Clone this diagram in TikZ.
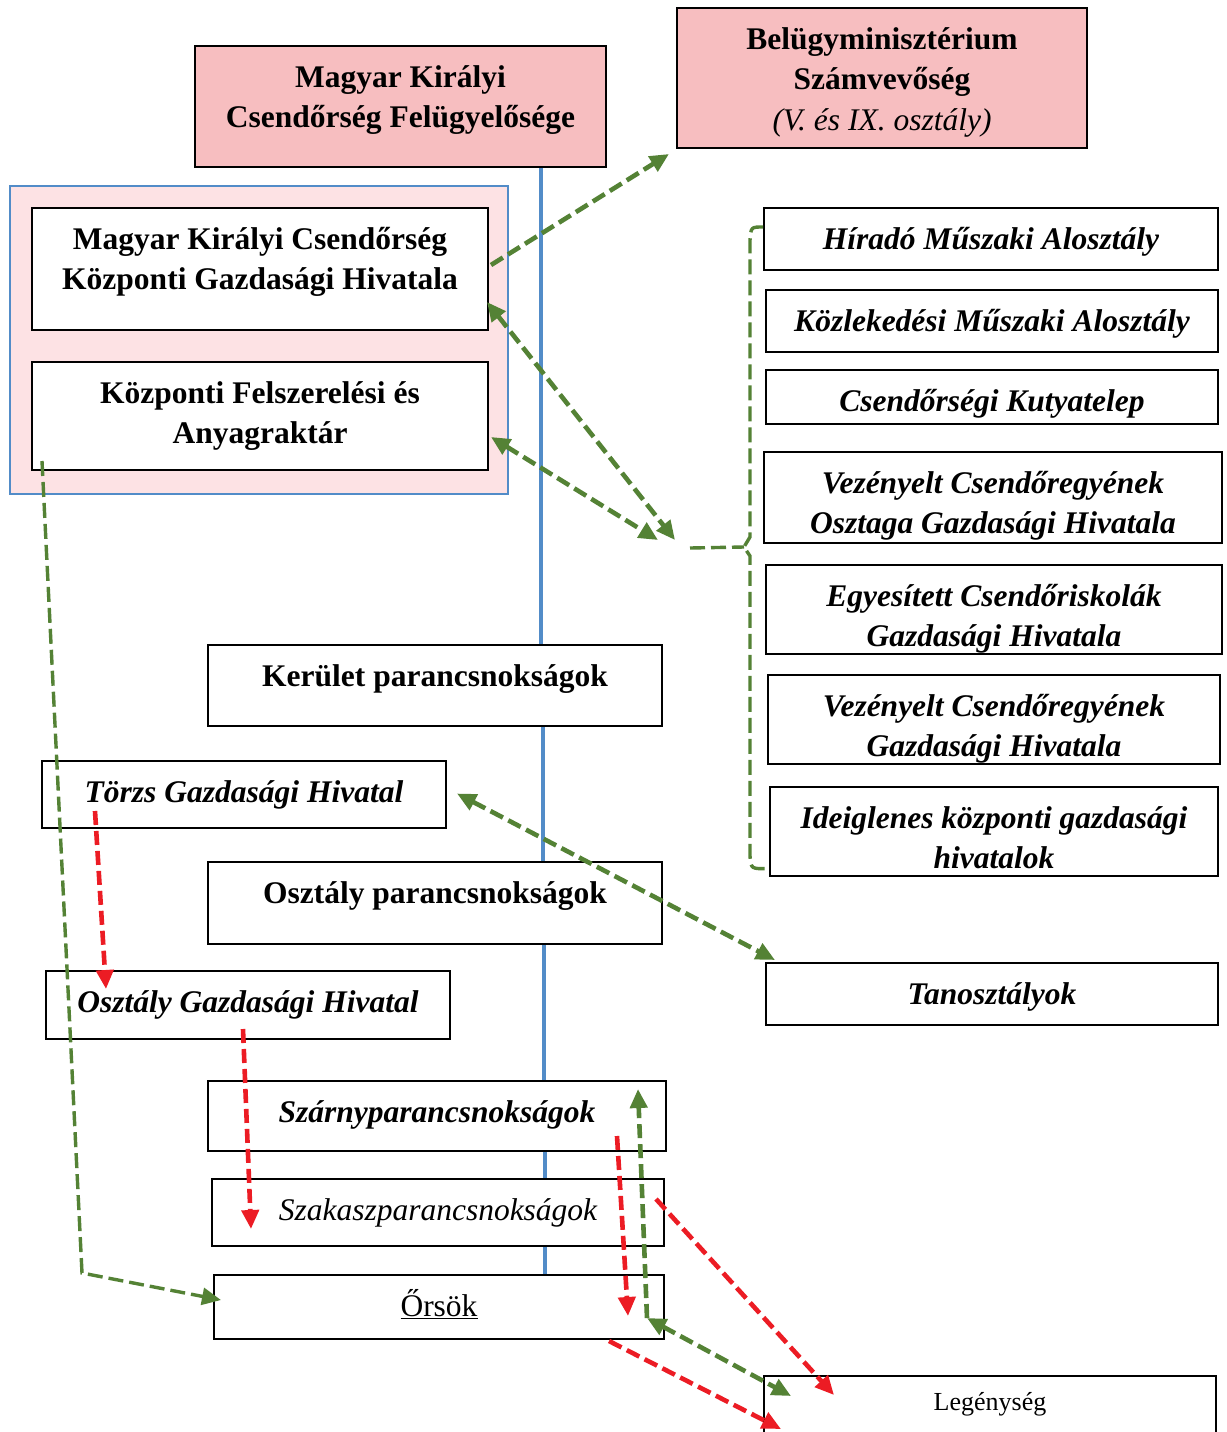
\documentclass[tikz,border=0pt]{standalone}
\usepackage{fontspec}
\setmainfont{Liberation Serif}
\usetikzlibrary{calc,arrows.meta}
\definecolor{blu}{RGB}{82,140,200}
\definecolor{pnk}{RGB}{247,190,192}
\definecolor{lpnk}{RGB}{253,226,228}
\definecolor{grn}{RGB}{84,130,53}
\definecolor{rd}{RGB}{236,28,36}
\newcommand\obox[8][]{%
  \node[boxs,#1,minimum width={(#5-#3)*1pt},minimum height={(#6-#4)*1pt}] (#2) at ({(#3+#5)/2},{(#4+#6)/2}) {};
  \node[txt,font=\fontsize{31.5}{40.5}\selectfont#7] (#2t) at ($(#2.north)+(0,12)$) {\rule{0pt}{30pt}#8};}
\begin{document}
\begin{tikzpicture}[x=1pt,y=-1pt,
  boxs/.style={draw=black,line width=2pt,fill=white,inner sep=0pt},
  txt/.style={anchor=north,inner sep=0pt,align=center},
  bline/.style={draw=blu,line width=3.6pt},
  >={Triangle[length=19pt,width=17pt]},
  gd/.style={draw=grn,line width=4.6pt,dash pattern=on 14pt off 6pt},
  gthin/.style={draw=grn,line width=3.4pt,dash pattern=on 15pt off 6pt},
  rdd/.style={draw=rd,line width=4.6pt,dash pattern=on 14pt off 6pt}]
\useasboundingbox (0,0) rectangle (1226,1432);
\fill[white] (0,0) rectangle (1226,1432);
% group box
\node[draw=blu,line width=2.2pt,fill=lpnk,inner sep=0pt,minimum width=498pt,minimum height=308pt] (grp) at (259,340) {};
% boxes
\obox[fill=pnk]{felug}{195}{46}{606}{167}{\bfseries}{Magyar Királyi\\Csendőrség Felügyelősége}
\obox[fill=pnk]{belug}{677}{8}{1087}{148}{\bfseries}{Belügyminisztérium\\Számvevőség\\{\mdseries\itshape (V. és IX. osztály)}}
\obox{kgh}{32}{208}{488}{330}{\bfseries}{Magyar Királyi Csendőrség\\Központi Gazdasági Hivatala}
\obox{kf}{32}{362}{488}{470}{\bfseries}{Központi Felszerelési és\\Anyagraktár}
\obox{hira}{764}{208}{1218}{270}{\bfseries\itshape}{Híradó Műszaki Alosztály}
\obox{kozl}{766}{290}{1218}{352}{\bfseries\itshape}{Közlekedési Műszaki Alosztály}
\obox{kutya}{766}{370}{1218}{424}{\bfseries\itshape}{Csendőrségi Kutyatelep}
\obox{vezo}{764}{452}{1222}{543}{\bfseries\itshape}{Vezényelt Csendőregyének\\Osztaga Gazdasági Hivatala}
\obox{egy}{766}{565}{1222}{654}{\bfseries\itshape}{Egyesített Csendőriskolák\\Gazdasági Hivatala}
\obox{vezg}{768}{675}{1220}{764}{\bfseries\itshape}{Vezényelt Csendőregyének\\Gazdasági Hivatala}
\obox{ideig}{770}{787}{1218}{876}{\bfseries\itshape}{Ideiglenes központi gazdasági\\hivatalok}
\obox{tano}{766}{963}{1218}{1025}{\bfseries\itshape}{Tanosztályok}
\obox{ker}{208}{645}{662}{726}{\bfseries}{Kerület parancsnokságok}
\obox{torzs}{42}{761}{446}{828}{\bfseries\itshape}{Törzs Gazdasági Hivatal}
\obox{oszp}{208}{862}{662}{944}{\bfseries}{Osztály parancsnokságok}
\obox{ogh}{46}{971}{450}{1039}{\bfseries\itshape}{Osztály Gazdasági Hivatal}
\obox{szarny}{208}{1081}{666}{1151}{\bfseries\itshape}{Szárnyparancsnokságok}
\obox{szak}{212}{1179}{664}{1246}{\itshape}{Szakaszparancsnokságok}
\obox{orsok}{214}{1275}{664}{1339}{}{\underline{Őrsök}}
\node[boxs,minimum width=452pt,minimum height=84pt] (leg) at (990,1418) {};
\node[txt,font=\fontsize{26}{32}\selectfont] (legt) at ($(leg.north)+(0,5)$) {\rule{0pt}{30pt}Legénység};
% blue hierarchy lines
\coordinate (sA) at (541,0);
\coordinate (sB) at (543,0);
\coordinate (sC) at (544,0);
\coordinate (sD) at (545,0);
\draw[bline] (felug.south -| sA) -- (ker.north -| sA);
\draw[bline] ($(kgh.east)+(0,17)$) -- ($(kgh.east)+(0,17)$ -| sA);
\draw[bline] ($(kf.east)+(0,10)$) -- ($(kf.east)+(0,10)$ -| sA);
\draw[bline] (ker.south -| sB) -- (oszp.north -| sB);
\draw[bline] ($(torzs.east)+(0,-10)$) -- ($(torzs.east)+(0,-10)$ -| sB);
\draw[bline] (oszp.south -| sC) -- (szarny.north -| sC);
\draw[bline] ($(ogh.east)+(0,-4)$) -- ($(ogh.east)+(0,-4)$ -| sC);
\draw[bline] (szarny.south -| sD) -- (szak.north -| sD);
\draw[bline] (szak.south -| sD) -- (orsok.north -| sD);
% green dashed connectors
\coordinate (hubA) at (675,540);
\coordinate (hubB) at (658,540);
\coordinate (bleft) at (690,548);
\coordinate (bcusp) at (744,547);
\coordinate (g4c) at (82,1273);
\coordinate (g6c) at (647,1318);
\draw[gd,->] ($(kgh.east)+(2,-4)$) -- ($(belug.south west)+(-7,5)$);
\draw[gd,<->] ($(kgh.east)+(-2,33)$) -- (hubA);
\draw[gd,<->] ($(kf.east)+(2,21)$) -- (hubB);
\draw[gthin] (bleft) -- (bcusp);
\draw[gthin] ($(hira.west)+(0,-12)$) .. controls (751,227) .. (750,240) -- (750,537) -- (bcusp) -- (750,556) -- (750,856) .. controls (751,869) .. ($(ideig.west)+(0,37)$);
\draw[gthin,->] ($(kf.south west)+(11,-10)$) -- (g4c) -- ($(orsok.west)+(8,-7)$);
\draw[gd,<->] ($(torzs.east)+(10,-1)$) -- ($(tano.north west)+(10,-2)$);
\draw[gd,->] (g6c) -- ($(szarny.north east)+(-29,9)$);
\draw[gd,<->] (g6c) -- ($(leg.north west)+(28,21)$);
% red dashed connectors
\draw[rdd,->] ($(torzs.south west)+(54,-18)$) -- ($(ogh.north west)+(61,19)$);
\draw[rdd,->] ($(ogh.south west)+(198,-11)$) -- ($(szak.south west)+(40,-18)$);
\draw[rdd,->] ($(szarny.south east)+(-50,-16)$) -- ($(orsok.east)+(-37,9)$);
\draw[rdd,->] ($(szak.north east)+(-9,21)$) -- ($(leg.north west)+(71,20)$);
\draw[rdd,->] ($(orsok.south east)+(-56,1)$) -- ($(leg.north west)+(18,54)$);
\end{tikzpicture}
\end{document}
